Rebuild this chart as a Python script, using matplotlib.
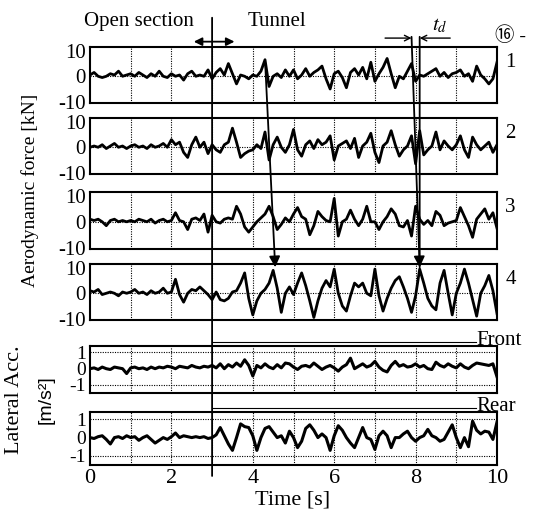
import numpy as np
import matplotlib.pyplot as plt
from matplotlib.patches import ConnectionPatch

plt.rcParams['font.family'] = ['Liberation Serif', 'Noto Sans CJK JP', 'DejaVu Sans']
plt.rcParams['mathtext.fontset'] = 'stix'

# time axis, 0.1 s steps
t = np.arange(101) / 10.0

# aerodynamic force [kN] at positions 1-4
force1 = [0.5, 1.5, 0.0, -0.5, 0.0, 1.0, 0.5, 2.0, 0.0, 0.5,
          1.0, 0.0, 1.5, 0.5, -0.5, 1.0, 0.0, 2.0, 0.0, -0.5,
          1.0, 0.0, 0.5, -1.5, 1.0, 2.0, 0.0, 0.5, 0.0, 2.5,
          -1.0, 1.5, 3.0, 0.5, 5.0, 1.0, -3.0, 0.5, 0.0, -1.0,
          0.5, 0.0, 2.0, 6.5, -4.0, 0.0, 1.0, -0.5, 2.5, 0.0,
          2.5, -1.0, 0.5, 3.0, 0.0, 1.5, 2.5, 4.0, -1.0, -5.0,
          1.0, 2.0, -0.5, -4.5, 1.5, 3.0, 0.5, 3.5, -1.0, 5.5,
          -2.0, 1.0, 3.5, 7.0, 1.0, -4.5, 0.0, -1.0, 2.0, 5.0,
          -2.0, 0.5, 0.0, 1.0, 2.0, 3.0, 0.0, 1.5, -0.5, 1.0,
          1.5, 2.5, 0.0, 1.0, -2.0, 4.0, 0.5, -1.0, -3.0, -1.0,
          5.5]
force2 = [0.0, 0.5, 0.0, 1.0, -0.5, 0.5, 1.5, 0.0, 0.5, -0.5,
          0.5, 1.0, 0.0, 0.5, -0.5, 1.0, 0.0, 0.5, 1.5, 0.0,
          3.0, 1.0, 2.0, -2.0, -4.0, 1.0, 4.0, 0.0, 2.0, -2.5,
          1.0, -1.0, -2.0, 1.0, 2.0, 7.5, 2.0, -4.0, -2.5, -1.5,
          -1.0, 1.0, -0.5, 6.0, -5.0, 1.0, 4.0, 0.0, -2.0, 1.0,
          7.0, -1.0, -3.5, 1.0, 2.5, -0.5, 3.0, 1.0, 2.0, 4.5,
          -5.0, 0.5, 1.5, 2.5, -0.5, 3.5, -4.0, 0.5, 2.0, 5.5,
          -2.0, -6.0, 0.5, 2.0, 6.5, 1.0, -3.5, -1.0, 0.5, 4.5,
          -6.5, 6.5, -3.0, -1.0, 0.5, 6.0, -1.0, 2.5, 0.5, -1.0,
          1.0, 4.5, -1.0, -4.0, 4.0, 1.0, -1.0, 0.5, 2.0, -2.0,
          1.0]
force3 = [1.0, 0.5, 1.0, 0.0, -1.5, 0.5, 1.0, 0.0, 0.5, 0.0,
          0.5, 0.0, 1.0, 0.5, 0.0, 1.0, -0.5, 0.5, 1.0, 0.0,
          0.5, 3.5, 0.5, 0.0, -3.0, 1.0, 1.5, 0.5, 3.0, -4.0,
          2.5, 0.0, -0.5, 1.0, 1.5, 1.0, 6.0, 3.0, -2.0, -4.0,
          -2.0, 0.0, 1.5, 3.0, 6.0, 2.0, -3.0, -1.0, 1.5, 0.0,
          3.0, 5.5, 2.0, 1.0, -5.0, -1.5, 4.0, 2.0, 0.5, 0.0,
          9.0, -5.5, 0.0, 1.0, 4.5, 1.0, -1.5, 1.0, 6.0, 0.0,
          0.0, -3.0, 0.0, 2.0, 5.0, 3.0, -1.5, -2.0, 0.5, -5.5,
          6.0, 1.0, -1.0, 0.5, -1.5, 4.0, 2.5, -1.5, -0.5, 0.0,
          0.5, 5.5, 2.0, -1.5, -6.0, 1.0, 3.0, 5.0, 1.0, 3.5,
          -2.5]
force4 = [1.0, 0.5, 1.5, -0.5, 0.0, 0.5, 0.0, -1.0, 0.5, 0.0,
          0.5, 1.5, 0.0, 0.5, -0.5, 1.0, 0.0, 0.5, 2.0, 0.0,
          0.5, 5.5, -0.5, -3.5, 0.0, 1.5, 1.0, 2.5, 1.0, -0.5,
          -2.5, 0.5, -2.5, -3.0, -2.0, 0.5, 1.0, 4.0, 8.0, -2.0,
          -8.5, -3.0, 0.0, 1.5, 4.0, 9.0, 2.0, -7.5, 0.0, 2.5,
          -0.5, 4.0, 8.0, 3.0, -3.0, -9.5, -3.0, 2.0, 5.0, 2.5,
          9.5, 0.0, -5.0, -7.0, -1.0, 4.0, 2.5, 4.0, 0.0, -1.0,
          9.5, -1.0, -7.0, -2.0, 2.0, 5.0, 6.5, 2.5, -2.0, -7.5,
          -1.0, 9.5, 4.0, -2.0, -5.0, -6.5, 4.0, 9.0, 0.0, -8.5,
          0.0, 4.0, 9.5, 4.0, -2.5, -9.0, 0.0, 3.0, 7.0, 1.0,
          -8.0]

# lateral acceleration [m/s2], front and rear car body
acc_front = [0.0, 0.05, -0.05, 0.1, 0.0, -0.05, 0.1, 0.05, 0.0, -0.3,
             0.05, 0.1, 0.0, 0.05, -0.05, 0.1, 0.0, 0.1, 0.05, 0.15,
             0.1, 0.0, 0.15, 0.1, 0.05, 0.2, 0.1, 0.05, 0.15, 0.1,
             0.2, 0.05, 0.3, 0.0, 0.25, 0.1, 0.35, 0.15, 0.55, 0.2,
             -0.45, 0.2, 0.05, 0.3, 0.1, 0.0, 0.25, 0.05, 0.35, 0.3,
             0.1, -0.05, 0.15, 0.2, 0.1, 0.35, 0.15, -0.05, 0.1, 0.2,
             0.05, -0.15, 0.1, 0.25, 0.65, 0.0, 0.15, 0.3, 0.1, 0.2,
             0.45, 0.1, -0.1, -0.2, 0.2, 0.45, 0.15, 0.25, 0.1, 0.15,
             0.3, 0.1, 0.2, 0.0, -0.05, 0.4, 0.2, 0.1, 0.3, 0.15,
             0.05, 0.3, 0.1, 0.0, 0.2, 0.35, 0.3, 0.25, 0.2, 0.3,
             -0.5]
acc_rear = [0.0, -0.05, 0.05, 0.1, -0.1, -0.35, 0.0, 0.05, -0.05, 0.1,
            0.0, 0.05, -0.15, 0.0, 0.1, -0.1, -0.3, -0.15, 0.0, -0.1,
            0.05, 0.25, 0.0, 0.1, 0.05, 0.0, 0.05, 0.0, 0.05, -0.05,
            0.0, 0.15, 0.55, 0.1, -0.35, -0.7, 0.0, 0.75, 0.6, 0.55,
            0.1, -0.7, 0.0, 0.5, 0.6, 0.3, 0.0, 0.1, -0.3, 0.35,
            0.0, -0.55, -0.2, 0.5, 0.7, 0.4, 0.0, 0.2, 0.0, -0.7,
            0.1, 0.65, 0.4, 0.0, -0.3, -0.55, 0.0, 0.55, 0.0, -0.1,
            -0.65, 0.1, 0.35, 0.1, -0.55, 0.0, 0.0, 0.2, 0.35, 0.0,
            -0.2, 0.0, 0.1, 0.45, 0.1, 0.0, -0.2, -0.1, 0.3, 0.7,
            0.0, -0.55, 0.0, -0.5, 0.9, 0.4, 0.2, 0.35, 0.3, -0.1,
            0.85]

force_series = [force1, force2, force3, force4]
force_names = ['1', '2', '3', '4']
acc_series = [acc_front, acc_rear]
acc_names = ['Front', 'Rear']

x_ticks = [0, 2, 4, 6, 8, 10]
t_tunnel = 3.0           # entry into tunnel
t_peak1 = (4.3, 4.55)    # first marked peak: position 1 -> position 4
t_peak2 = (7.9, 8.1)     # second marked peak (t_d)

# figure layout, pixels of the 538x522 picture
fig = plt.figure(figsize=(5.38, 5.22), dpi=100)
W, H = 538.0, 522.0
left, right = 90, 497
panels_px = [(47, 103), (118, 174), (192, 249), (264, 320), (346, 393), (412, 465)]

axes = []
for top, bot in panels_px:
    ax = fig.add_axes([left / W, 1 - bot / H, (right - left) / W, (bot - top) / H])
    axes.append(ax)

dot = (0, (1, 1.2))
for i, ax in enumerate(axes):
    if i < 4:
        ax.plot(t, force_series[i], color='black', lw=2.0, zorder=3)
        ax.set_ylim(-10.5, 11.5)
        ax.set_yticks([-10, 0, 10])
        ax.set_yticklabels(['-10', '0', '10'], fontsize=15)
        ax.axhline(0, color='black', lw=0.8, ls=dot, zorder=1)
        ax.text(10.2, 5.5, force_names[i], fontsize=15, va='center', ha='left')
    else:
        ax.plot(t, acc_series[i - 4], color='black', lw=2.2, zorder=3)
        ax.set_ylim(-1.5, 1.4)
        ax.set_yticks([-1, 0, 1])
        ax.set_yticklabels(['-1', '0', '1'], fontsize=14)
        for yy in (-1, 1):
            ax.axhline(yy, color='black', lw=0.8, ls=dot, zorder=1)
        ax.text(9.5, 1.72, acc_names[i - 4], fontsize=15, va='center', ha='left')
        ax.plot([t_tunnel, 9.48], [1.62, 1.62], color='black', lw=0.8, clip_on=False)
    for xx in range(1, 10):
        ax.axvline(xx, color='black', lw=0.8, ls=dot, zorder=1)
    ax.set_xlim(0, 10)
    ax.set_xticks(x_ticks)
    ax.tick_params(length=0, pad=3)
    for s in ax.spines.values():
        s.set_linewidth(1.5)
    if i < 5:
        ax.set_xticklabels([])
    else:
        ax.set_xticklabels([str(v) for v in x_ticks], fontsize=16)

ax1, ax4, ax_rear = axes[0], axes[3], axes[5]


def connect(pa, pb, axa, axb, **kw):
    cp = ConnectionPatch(pa, pb, 'data', 'data', axesA=axa, axesB=axb,
                         color='black', lw=1.3, shrinkA=0, shrinkB=0, **kw)
    cp.set_annotation_clip(False)
    fig.add_artist(cp)


# tunnel entry line through all panels
connect((t_tunnel, 23), (t_tunnel, -2.1), ax1, ax_rear)
ax1.annotate('', xy=(2.55, 13.6), xytext=(3.55, 13.6),
             arrowprops=dict(arrowstyle='<|-|>', color='black', lw=1.3,
                             mutation_scale=12, shrinkA=0, shrinkB=0),
             annotation_clip=False)
ax1.text(1.2, 21.5, 'Open section', fontsize=15, ha='center', va='center')
ax1.text(4.6, 21.5, 'Tunnel', fontsize=15, ha='center', va='center')

# propagation arrows position 1 -> position 4
connect((t_peak1[0], 6.5), (t_peak1[1], 10.2), ax1, ax4,
        arrowstyle='-|>', mutation_scale=16)
connect((t_peak2[0], 15.5), (t_peak2[1], 10.2), ax1, ax4,
        arrowstyle='-|>', mutation_scale=16)
connect((t_peak2[1], 15.5), (t_peak2[1], 10.2), ax1, ax4)

# t_d markers
ax1.annotate('', xy=(t_peak2[0], 15.0), xytext=(7.25, 15.0),
             arrowprops=dict(arrowstyle='->', color='black', lw=1.0,
                             shrinkA=0, shrinkB=0), annotation_clip=False)
ax1.annotate('', xy=(t_peak2[1], 15.0), xytext=(8.85, 15.0),
             arrowprops=dict(arrowstyle='->', color='black', lw=1.0,
                             shrinkA=0, shrinkB=0), annotation_clip=False)
ax1.text(8.6, 20.0, '$t_d$', fontsize=15, ha='center', va='center')
ax1.text(9.95, 16.0, '⑯ -', fontsize=14, ha='left', va='center')

# axis labels
fig.text(30 / W, 1 - 190 / H, 'Aerodynamic force [kN]', rotation=90,
         fontsize=14, ha='center', va='center')
fig.text(15 / W, 1 - 400 / H, 'Lateral Acc.', rotation=90,
         fontsize=16, ha='center', va='center')
fig.text(46 / W, 1 - 400 / H, '[m/s²]', rotation=90, fontsize=14,
         ha='center', va='center', family=['Liberation Sans', 'DejaVu Sans'])
fig.text(293 / W, 1 - 500 / H, 'Time [s]', fontsize=16, ha='center', va='center')

plt.savefig('out.png', dpi=100)
